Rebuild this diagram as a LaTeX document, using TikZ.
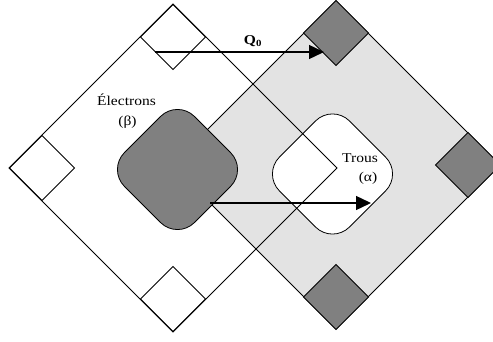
\documentclass[tikz,border=0pt]{standalone}
\usepackage{fontspec}
\setmainfont{Liberation Serif}[FakeStretch=1.15]
\usetikzlibrary{arrows.meta,shapes.geometric}
\begin{document}
\begin{tikzpicture}[x=1pt,y=-1pt,
  dia/.style={diamond, inner sep=0pt, outer sep=0pt, minimum width=#1, minimum height=#1, line width=0.8pt},
  big/.style={dia=328},
  small/.style={dia=65},
  rdia/.style={dia=140, rounded corners=24pt},
  stipple/.style={fill=black!11},
  darkfill/.style={fill=black!50},
  arr/.style={line width=1.4pt, -{Triangle[length=15pt,width=14pt]}},
  lab/.style={font=\fontsize{13.5}{20}\selectfont, inner sep=0pt, align=center}]
\useasboundingbox (0,0) rectangle (493,342);
\clip (0,0) rectangle (493,342);
% fills
\node[big, fill=white] (Lf) at (173,168) {};
\node[big, stipple] (Rf) at (336,165) {};
\node[rdia, fill=white] (W) at (332.5,174) {};
% left diamond outlines
\node[big, draw] (L) at (173,168) {};
\node[small, draw] (Lt) at (173,37) {};
\node[small, draw] (Ll) at (42,168) {};
\node[small, draw] (Lb) at (173,299) {};
% right diamond
\node[big, draw] (R) at (336,165) {};
\node[small, draw, darkfill] (Rt) at (336,33) {};
\node[small, draw, darkfill] (Rr) at (468,165) {};
\node[small, draw, darkfill] (Rb) at (336,297) {};
% rounded diamonds
\node[rdia, draw] (Wo) at (332.5,174) {};
\node[rdia, draw, darkfill] (D) at (177.5,169.5) {};
% arrows
\coordinate (a1) at (155,52);
\coordinate (a2) at (324,52);
\coordinate (b1) at (210,203);
\coordinate (b2) at (371,203);
\draw[arr] (a1) -- (a2);
\draw[arr] (b1) -- (b2);
% labels
\node[lab, font=\fontsize{13.5}{20}\selectfont\bfseries] (q) at (253,41) {Q\textsubscript{0}};
\node[lab, anchor=base] (el) at (126.5,106) {Électrons};
\node[lab, anchor=base] (be) at (127.5,126) {(β)};
\node[lab, anchor=base] (tr) at (360,163) {Trous};
\node[lab, anchor=base] (al) at (368,182) {(α)};
\end{tikzpicture}
\end{document}
